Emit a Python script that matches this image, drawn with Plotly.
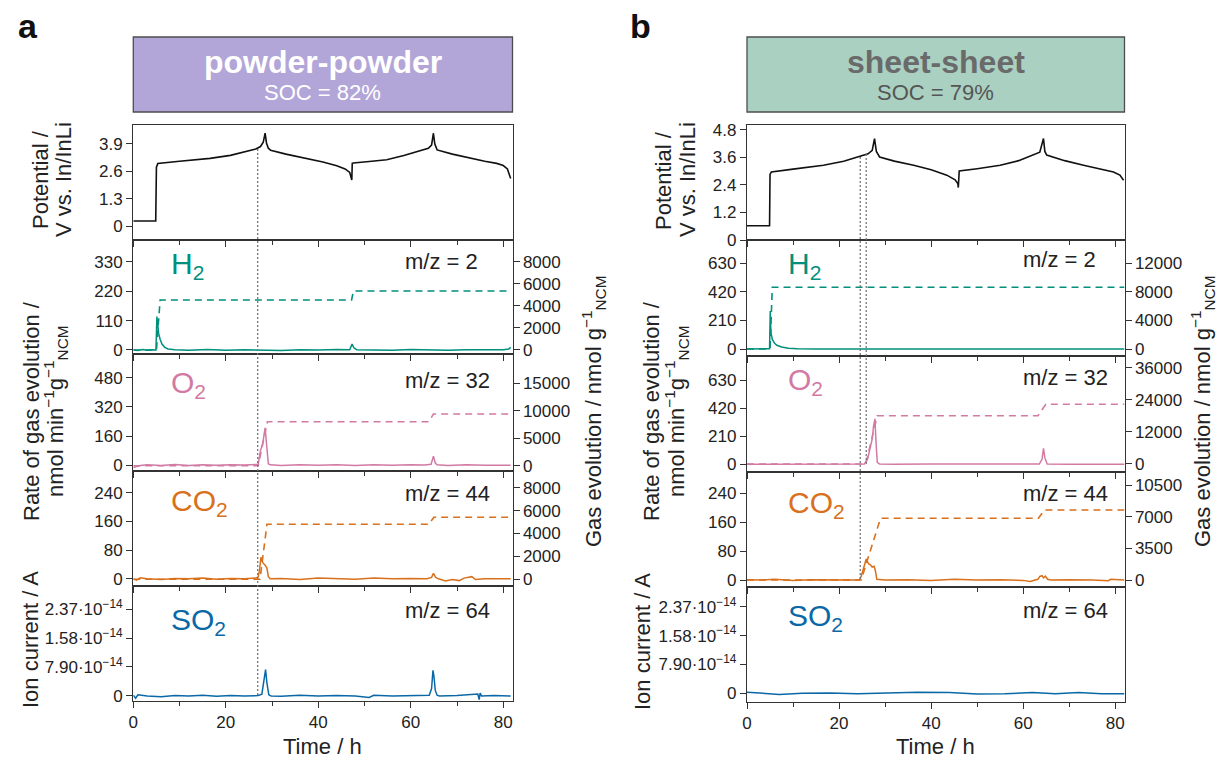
import plotly.graph_objects as go

W, H = 1222, 758
FONT = "Liberation Sans, Arial, sans-serif"


def px(x):
    return x / W


def py(y):
    return 1 - y / H


# ---------------- data: panel a (powder-powder) ----------------
pot_t_a = [0, 4.85, 5.0, 5.3, 10, 16.6, 21, 24.5, 26.5, 27.5, 28.1, 28.5, 28.8, 29.2, 29.7, 33, 37.5, 41,
           44, 45.8, 46.8, 47.25, 47.35, 47.6, 51, 54.8, 58.5, 62, 63.8, 64.5, 64.9, 65.2, 65.7, 69, 72.8,
           76, 78.6, 80, 80.9, 81.6]
pot_v_a = [0.25, 0.25, 2.8, 2.98, 3.08, 3.22, 3.36, 3.55, 3.66, 3.78, 3.98, 4.41, 3.95, 3.7, 3.6, 3.42,
           3.22, 3.05, 2.87, 2.72, 2.55, 2.19, 2.98, 3.0, 3.07, 3.15, 3.35, 3.57, 3.7, 3.85, 4.41, 3.9, 3.62,
           3.42, 3.22, 3.08, 2.98, 2.88, 2.72, 2.27]

h2_t_a = [0, 1, 2, 3, 4, 4.9, 5.1, 5.3, 5.5, 5.8, 6.2, 6.8, 7.5, 9, 12, 16, 20, 24, 28, 32, 36, 40, 44,
          46.8, 47.3, 47.7, 48.3, 52, 56, 60, 64, 68, 72, 76, 80, 81.2, 81.6]
h2_r_a = [0, -2, 2, -1, 1, 0, 125, 95, 60, 40, 22, 10, 4, 1, -1, 2, -1, 1, 0, -2, 1, 0, 2, 1, 22, 8, 1,
          0, -1, 2, 0, -1, 1, 0, 1, 4, 10]
h2_ct_a = [0, 5.0, 5.8, 47.2, 47.6, 81.6]
h2_c_a = [0, 0, 4530, 4530, 5350, 5350]

o2_t_a = [0, 0.5, 1.5, 3, 6, 9, 12, 15, 18, 21, 24, 26.5, 27.0, 27.5, 28.0, 28.5, 28.9, 29.2, 29.6, 32,
          36, 40, 44, 48, 52, 56, 60, 63, 64.4, 64.9, 65.3, 65.7, 68, 72, 76, 80, 81.6]
o2_r_a = [-15, -8, -2, 2, -2, 4, -1, 2, 0, 3, 1, 2, 5, 80, 120, 205, 60, 8, 2, -2, 3, 0, 2, -1, 3, 0,
          2, 1, 5, 50, 12, 2, -1, 3, 0, 2, 0]
o2_ct_a = [0, 27.0, 29.0, 63.9, 64.9, 81.6]
o2_c_a = [0, 0, 8000, 8000, 9400, 9400]

co2_t_a = [0, 0.7, 1.5, 3, 6, 9, 12, 15, 18, 21, 24, 26.5, 27.0, 27.3, 27.6, 28.0, 28.5, 28.9, 29.2,
           29.6, 32, 36, 40, 44, 48, 52, 56, 60, 63.5, 64.5, 64.9, 65.4, 66, 67.5, 69, 70.5, 71.5, 73.2,
           74, 76, 80, 81.6]
co2_r_a = [0, -4, 3, 0, -2, 1, 0, 2, -1, 1, 0, 2, 5, 25, 60, 45, 38, 30, 6, 0, 1, -2, 2, 0, -1, 2, 0,
           1, 0, 4, 15, 4, 0, -6, -2, -5, 2, 6, -2, 0, 1, 0]
co2_ct_a = [0, 27.4, 28.9, 63.9, 65.0, 81.6]
co2_c_a = [0, 0, 4800, 4800, 5420, 5420]

so2_t_a = [0, 0.5, 1, 3, 6, 9, 12, 15, 18, 21, 24, 27, 27.8, 28.2, 28.6, 28.9, 29.3, 29.8, 32, 36, 40,
           44, 48, 51, 52, 56, 60, 64, 64.5, 64.8, 65.0, 65.3, 65.7, 66.2, 70, 74.5, 74.8, 75.0, 75.3,
           78, 81.6]
so2_r_a = [0.02, -0.06, 0.03, 0.0, -0.02, 0.01, 0.0, 0.02, -0.01, 0.01, 0.0, 0.01, 0.05, 0.4, 0.72,
           0.35, 0.03, 0.0, -0.01, 0.02, 0.0, 0.01, 0.0, -0.04, 0.02, 0.0, 0.01, 0.02, 0.2, 0.7, 0.55,
           0.15, 0.02, 0.0, 0.01, 0.05, -0.1, 0.08, 0.0, 0.01, 0.0]

# ---------------- data: panel b (sheet-sheet) ----------------
pot_t_b = [0, 4.9, 5.0, 5.3, 10, 16.6, 21, 24.6, 26.3, 27.2, 27.7, 28.1, 28.8, 32, 36.2, 40, 43.4, 45.2,
           45.8, 45.9, 46.1, 50, 55, 59, 62.2, 63.6, 64.4, 64.7, 65.1, 69, 73.1, 77, 79.6, 81, 81.8]
pot_v_b = [0.62, 0.62, 2.85, 2.96, 3.08, 3.25, 3.42, 3.64, 3.75, 3.9, 4.41, 3.85, 3.61, 3.43, 3.25,
           3.05, 2.82, 2.62, 2.45, 2.28, 3.0, 3.1, 3.25, 3.45, 3.69, 3.82, 4.41, 3.85, 3.69, 3.45, 3.25,
           3.08, 2.96, 2.82, 2.6]

h2_t_b = [0, 2, 4, 4.9, 5.05, 5.2, 5.5, 6, 6.5, 7.5, 9, 11, 15, 20, 30, 40, 50, 60, 70, 82]
h2_r_b = [0, 1, 0, 2, 280, 120, 70, 42, 28, 15, 6, 2, 0, 1, 0, 1, 0, 1, 0, 0]
h2_ct_b = [0, 5.0, 5.5, 82]
h2_c_b = [0, 0, 8640, 8640]

o2_t_b = [0, 5, 10, 15, 20, 24, 25.5, 26.2, 26.8, 27.2, 27.5, 27.8, 28.0, 28.3, 28.8, 32, 40, 50, 60,
          63.5, 64.1, 64.4, 64.7, 65.2, 70, 75, 82]
o2_r_b = [0, 1, 0, 2, 0, 1, 3, 40, 140, 190, 290, 340, 180, 15, 2, 0, 2, 0, 1, 2, 40, 120, 50, 3, 0, 2, 0]
o2_ct_b = [0, 25.8, 28.3, 63.2, 64.9, 82]
o2_c_b = [0, 0, 18100, 18100, 22400, 22400]

co2_t_b = [0, 3, 6, 10, 14, 18, 22, 24.4, 24.8, 25.4, 25.9, 26.4, 26.8, 27.2, 27.6, 27.9, 28.2, 30, 35,
           40, 45, 50, 55, 60, 61.5, 63.2, 63.6, 64.1, 64.4, 64.8, 65.3, 66, 70, 75, 78.5, 79, 82]
co2_r_b = [1, 0, 2, -1, 1, 0, 1, 0, 10, 40, 58, 45, 42, 36, 38, 25, 2, 0, 1, -1, 2, 0, 1, -1, -4, 2, 10,
           12, 6, 11, 2, 0, 1, 0, -2, 2, 0]
co2_ct_b = [0, 24.8, 29.0, 63.3, 64.6, 82]
co2_c_b = [0, 0, 6820, 6820, 7735, 7735]

so2_t_b = [0, 3, 7, 12, 18, 24, 30, 37, 44, 50, 56, 62, 67, 72, 77, 82]
so2_r_b = [0.03, 0.0, -0.03, 0.0, 0.01, -0.01, 0.0, 0.03, 0.02, -0.02, -0.01, 0.02, -0.01, 0.02, -0.01, -0.01]

# tick labels / text
time_ticks = [0, 20, 40, 60, 80]
so2_tickvals = [0, 0.79, 1.58, 2.37]
so2_ticktext = ["0", "7.90·10<sup>−14</sup>", "1.58·10<sup>−14</sup>", "2.37·10<sup>−14</sup>"]
marker_times_a = [26.9]
marker_times_b = [24.6, 25.9]

C_H2 = "#00907c"
C_O2 = "#d27aa3"
C_CO2 = "#d9701c"
C_SO2 = "#0b68a6"
AX = "#333333"

columns = [
    dict(
        xdom=(133.3, 512.5),
        rows=[(125, 240), (240, 354), (354, 470.7), (470.7, 586), (586, 700.7)],
        pot=(pot_t_a, pot_v_a, [-0.65, 4.8], [0, 1.3, 2.6, 3.9]),
        gases=[
            (h2_t_a, h2_r_a, h2_ct_a, h2_c_a, C_H2, [-15, 411], [0, 110, 220, 330], [-364, 9964], [0, 2000, 4000, 6000, 8000]),
            (o2_t_a, o2_r_a, o2_ct_a, o2_c_a, C_O2, [-30, 610], [0, 160, 320, 480], [-900, 20300], [0, 5000, 10000, 15000]),
            (co2_t_a, co2_r_a, co2_ct_a, co2_c_a, C_CO2, [-20, 301], [0, 80, 160, 240], [-585, 9480], [0, 2000, 4000, 6000, 8000]),
        ],
        so2=(so2_t_a, so2_r_a, [-0.13, 3.0]),
    ),
    dict(
        xdom=(747, 1124.5),
        rows=[(125, 240), (240, 355.7), (355.7, 471.7), (471.7, 586.7), (586.7, 701.7)],
        pot=(pot_t_b, pot_v_b, [0, 5.0], [0, 1.2, 2.4, 3.6, 4.8]),
        gases=[
            (h2_t_b, h2_r_b, h2_ct_b, h2_c_b, C_H2, [-49, 801], [0, 210, 420, 630], [-933, 15257], [0, 4000, 8000, 12000]),
            (o2_t_b, o2_r_b, o2_ct_b, o2_c_b, C_O2, [-55, 812], [0, 210, 420, 630], [-2900, 40600], [0, 12000, 24000, 36000]),
            (co2_t_b, co2_r_b, co2_ct_b, co2_c_b, C_CO2, [-18.5, 300], [0, 80, 160, 240], [-740, 11970], [0, 3500, 7000, 10500]),
        ],
        so2=(so2_t_b, so2_r_b, [-0.23, 2.92]),
    ),
]

fig = go.Figure()
layout = {}
tickfont = dict(size=17, color="#222", family=FONT)
sec_idx = 11


def akey(prefix, n):
    return prefix if n == 1 else f"{prefix}{n}"


def aref(prefix, n):
    return prefix if n == 1 else f"{prefix}{n}"


for c, col in enumerate(columns):
    xd = [px(col["xdom"][0]), px(col["xdom"][1])]
    for r in range(5):
        n = c * 5 + r + 1
        top, bot = col["rows"][r]
        yd = [py(bot), py(top)]
        layout[akey("xaxis", n)] = dict(
            domain=xd, anchor=aref("y", n), range=[0, 82], showline=True, linecolor=AX, linewidth=1.4,
            mirror=True, showgrid=False, zeroline=False, ticks="outside", ticklen=6, tickwidth=1.2,
            tickcolor=AX, tickmode="array", tickvals=time_ticks, ticktext=[str(v) for v in time_ticks],
            showticklabels=(r == 4), tickfont=tickfont, automargin=False,
            minor=dict(tickvals=[10, 30, 50, 70], ticks="outside", ticklen=4, tickwidth=1.2, tickcolor=AX),
        )
        ycommon = dict(
            domain=yd, anchor=aref("x", n), showline=True, linecolor=AX, linewidth=1.4, mirror=True,
            showgrid=False, zeroline=False, ticks="outside", ticklen=6, tickwidth=1.2, tickcolor=AX,
            tickfont=tickfont, tickmode="array", automargin=False,
        )
        xr, yr = aref("x", n), aref("y", n)
        if r == 0:
            t, v, rng, tv = col["pot"]
            layout[akey("yaxis", n)] = dict(ycommon, range=rng, tickvals=tv, ticktext=[f"{x:g}" for x in tv])
            fig.add_trace(go.Scatter(x=t, y=v, mode="lines", line=dict(color="#111", width=1.6),
                                     xaxis=xr, yaxis=yr, showlegend=False))
        elif r in (1, 2, 3):
            t, rate, ct, cv, color, rng, tv, rng2, tv2 = col["gases"][r - 1]
            layout[akey("yaxis", n)] = dict(ycommon, range=rng, tickvals=tv, ticktext=[str(v) for v in tv])
            layout[akey("yaxis", sec_idx)] = dict(
                overlaying=yr, side="right", anchor=xr, range=rng2, tickvals=tv2,
                ticktext=[str(v) for v in tv2], tickmode="array", automargin=False,
                showline=False, showgrid=False, zeroline=False, ticks="outside", ticklen=6, tickwidth=1.2,
                tickcolor=AX, tickfont=tickfont,
            )
            fig.add_trace(go.Scatter(x=t, y=rate, mode="lines", line=dict(color=color, width=1.5),
                                     xaxis=xr, yaxis=yr, showlegend=False))
            fig.add_trace(go.Scatter(x=ct, y=cv, mode="lines", line=dict(color=color, width=1.6, dash="7px,5px"),
                                     xaxis=xr, yaxis=aref("y", sec_idx), showlegend=False))
            sec_idx += 1
        else:
            t, v, rng = col["so2"]
            layout[akey("yaxis", n)] = dict(ycommon, range=rng, tickvals=so2_tickvals, ticktext=so2_ticktext)
            fig.add_trace(go.Scatter(x=t, y=v, mode="lines", line=dict(color=C_SO2, width=1.5),
                                     xaxis=xr, yaxis=yr, showlegend=False))

shapes = []
annotations = []

# header boxes
headers = [
    (133.3, 512.5, "#b2a6d8", "powder-powder", "SOC = 82%", "#ffffff", "#ffffff"),
    (747, 1124.5, "#a9d0c1", "sheet-sheet", "SOC = 79%", "#6a6a6a", "#555555"),
]
for x0, x1, fill, t1, t2, c1, c2 in headers:
    shapes.append(dict(type="rect", xref="paper", yref="paper", x0=px(x0), x1=px(x1), y0=py(112), y1=py(37),
                       fillcolor=fill, line=dict(color="#4d4d4d", width=1.3), layer="below"))
    xc = px((x0 + x1) / 2)
    annotations.append(dict(xref="paper", yref="paper", x=xc, y=py(62), text=f"<b>{t1}</b>", showarrow=False,
                            font=dict(size=32, color=c1, family=FONT), xanchor="center", yanchor="middle"))
    annotations.append(dict(xref="paper", yref="paper", x=xc, y=py(92), text=t2, showarrow=False,
                            font=dict(size=22, color=c2, family=FONT), xanchor="center", yanchor="middle"))

# panel letters
for txt, x in (("a", 28), ("b", 640)):
    annotations.append(dict(xref="paper", yref="paper", x=px(x), y=py(26), text=f"<b>{txt}</b>", showarrow=False,
                            font=dict(size=34, color="#111", family=FONT), xanchor="center", yanchor="middle"))

# vertical dashed marker lines
vlines = [("x", marker_times_a[0], 149, 696), ("x6", marker_times_b[0], 157, 580), ("x6", marker_times_b[1], 154, 464)]
for xr, xv, y0, y1 in vlines:
    shapes.append(dict(type="line", xref=xr, yref="paper", x0=xv, x1=xv, y0=py(y0), y1=py(y1),
                       line=dict(color="#777", width=1.3, dash="2px,2px")))

# gas labels and m/z labels
gas_labels = [("H<sub>2</sub>", C_H2, "m/z = 2"), ("O<sub>2</sub>", C_O2, "m/z = 32"),
              ("CO<sub>2</sub>", C_CO2, "m/z = 44"), ("SO<sub>2</sub>", C_SO2, "m/z = 64")]
lab_y = [[266, 384, 502, 621], [266, 381, 504, 617]]
mz_y = [[261, 380, 493, 610], [260, 377, 493, 610]]
lab_x = [169, 786]
mz_x = [403, 1021]
for c in range(2):
    for i, (g, colr, mz) in enumerate(gas_labels):
        annotations.append(dict(xref="paper", yref="paper", x=px(lab_x[c]), y=py(lab_y[c][i]), text=g,
                                showarrow=False, font=dict(size=30, color=colr, family=FONT),
                                xanchor="left", yanchor="middle"))
        annotations.append(dict(xref="paper", yref="paper", x=px(mz_x[c]), y=py(mz_y[c][i]), text=mz,
                                showarrow=False, font=dict(size=22, color="#222", family=FONT),
                                xanchor="left", yanchor="middle"))

# axis titles
tfont = dict(size=22, color="#222", family=FONT)
titles = [
    (40, 180, "Potential /"), (63, 180, "V vs. In/InLi"),
    (31, 411, "Rate of gas evolution /"), (55, 411, "nmol min<sup>−1</sup>g<sup>−1</sup><sub>NCM</sub>"),
    (30, 640, "Ion current / A"),
    (593, 411, "Gas evolution / nmol g<sup>−1</sup><sub>NCM</sub>"),
    (663, 180, "Potential /"), (687, 180, "V vs. In/InLi"),
    (651, 411, "Rate of gas evolution /"), (676, 411, "nmol min<sup>−1</sup>g<sup>−1</sup><sub>NCM</sub>"),
    (642, 642, "Ion current / A"),
    (1202, 411, "Gas evolution / nmol g<sup>−1</sup><sub>NCM</sub>"),
]
for x, y, t in titles:
    annotations.append(dict(xref="paper", yref="paper", x=px(x), y=py(y), text=t, textangle=-90,
                            showarrow=False, font=tfont, xanchor="center", yanchor="middle"))
for x in (322.9, 935.7):
    annotations.append(dict(xref="paper", yref="paper", x=px(x), y=py(746), text="Time / h",
                            showarrow=False, font=dict(size=22, color="#222", family=FONT),
                            xanchor="center", yanchor="middle"))

layout.update(dict(
    width=W, height=H, margin=dict(l=0, r=0, t=0, b=0, pad=0, autoexpand=False),
    paper_bgcolor="white", plot_bgcolor="white",
    font=dict(family=FONT, color="#222"), shapes=shapes, annotations=annotations, showlegend=False,
))
fig.update_layout(**layout)

page_fix = (
    "document.documentElement.style.margin='0px';document.documentElement.style.padding='0px';"
    "document.documentElement.style.overflow='hidden';"
    "document.body.style.margin='0px';document.body.style.padding='0px';document.body.style.overflow='hidden';"
    "var gd=document.getElementById('{plot_id}');gd.style.position='absolute';gd.style.left='0px';"
    "gd.style.top='0px';"
)
fig.write_html("out.html", config={"displayModeBar": False}, post_script=page_fix)
